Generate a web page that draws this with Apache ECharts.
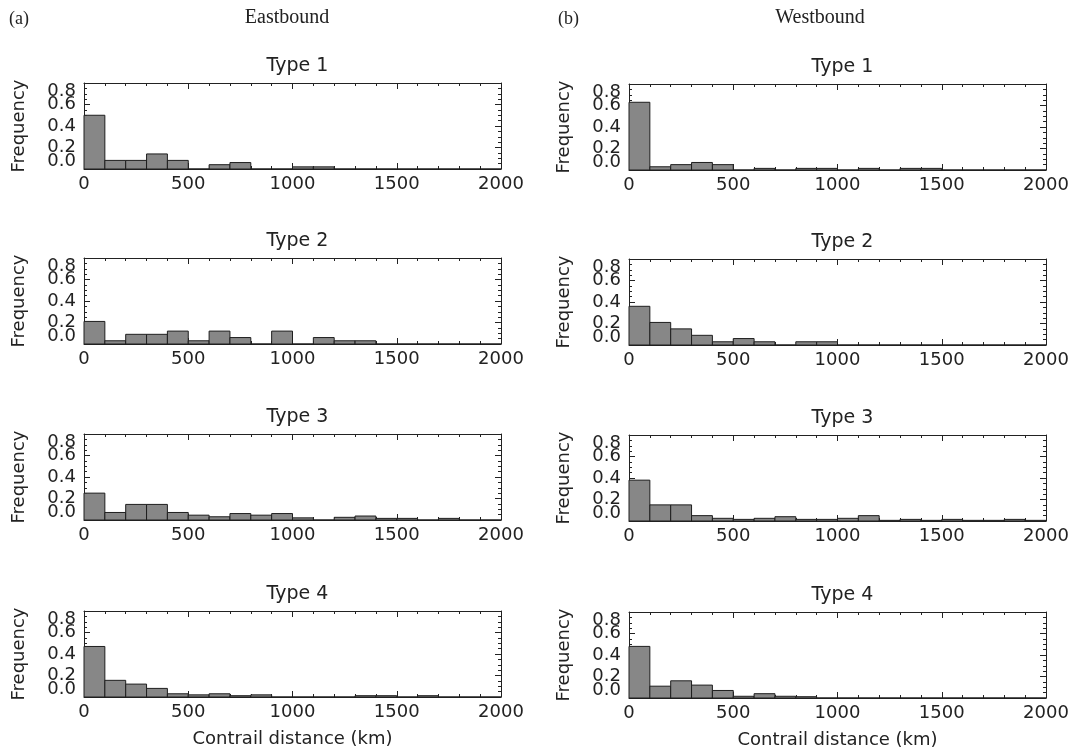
<!DOCTYPE html>
<html>
<head>
<meta charset="utf-8">
<script src="https://cdn.jsdelivr.net/npm/echarts@6/dist/echarts.min.js"></script>
<style>
html,body{margin:0;padding:0;background:#fff;}
#main{width:1075px;height:754px;}
</style>
</head>
<body>
<div id="main"></div>
<script>
// bin lower edges (km), each bin is 100 km wide
var binLo = [0,100,200,300,400,500,600,700,800,900,1000,1100,1200,1300,1400,1500,1600,1700,1800,1900];
var binWidth = 100;
var xTicks = ['0','500','1000','1500','2000'];
var yTicks = ['0.0','0.2','0.4','0.6','0.8'];
var typeNames = ['Type 1','Type 2','Type 3','Type 4'];

// eastbound frequencies
var eastT1 = [0.50,0.08,0.08,0.14,0.08,0,0.04,0.06,0,0,0.02,0.02,0,0,0,0,0,0,0,0];
var eastT2 = [0.21,0.03,0.09,0.09,0.12,0.03,0.12,0.06,0,0.12,0,0.06,0.03,0.03,0,0,0,0,0,0];
var eastT3 = [0.25,0.07,0.145,0.145,0.07,0.045,0.03,0.06,0.045,0.06,0.02,0,0.025,0.037,0.015,0.015,0,0.015,0,0];
var eastT4 = [0.47,0.155,0.12,0.08,0.03,0.02,0.03,0.012,0.02,0,0,0,0,0.012,0.012,0,0.012,0,0,0];
// westbound frequencies
var westT1 = [0.63,0.03,0.05,0.07,0.05,0,0.015,0,0.015,0.015,0,0.015,0,0.015,0.015,0,0,0,0,0];
var westT2 = [0.36,0.21,0.15,0.09,0.03,0.06,0.03,0,0.03,0.03,0,0,0,0,0,0,0,0,0,0];
var westT3 = [0.38,0.15,0.15,0.05,0.025,0.015,0.025,0.04,0.015,0.015,0.025,0.05,0.006,0.015,0.006,0.015,0.006,0.006,0.015,0.006];
var westT4 = [0.48,0.11,0.16,0.12,0.07,0.016,0.04,0.016,0.012,0,0,0,0,0,0,0,0,0,0,0];

var east = [eastT1, eastT2, eastT3, eastT4];
var west = [westT1, westT2, westT3, westT4];

var chart = echarts.init(document.getElementById('main'));

var FONT = 'DejaVu Sans';
var INK = '#222';
var colLeft = [84, 629];
var rowTop = [[83,258,434,611],[84,259,435,612]];
var gridW = 417, gridH = 86;

var grids = [], xAxes = [], yAxes = [], series = [], titles = [];

function renderBar(params, api) {
  var x0 = api.value(0), x1 = api.value(1), v = api.value(2);
  var p0 = api.coord([x0, 0]);
  var p1 = api.coord([x1, v]);
  return {
    type: 'rect',
    shape: {x: p0[0], y: p1[1], width: p1[0] - p0[0], height: p0[1] - p1[1]},
    style: {fill: '#878787', stroke: '#1e1e1e', lineWidth: 1}
  };
}

var tickStyle = {color: INK};

for (var c = 0; c < 2; c++) {
  for (var r = 0; r < 4; r++) {
    var g = grids.length;
    var vals = c === 0 ? east[r] : west[r];
    grids.push({left: colLeft[c], top: rowTop[c][r], width: gridW, height: gridH});
    titles.push({
      text: typeNames[r],
      left: colLeft[c] + gridW / 2, top: rowTop[c][r] - 31, textAlign: 'center',
      textStyle: {fontFamily: FONT, fontSize: 19, fontWeight: 'normal', color: INK}
    });
    var last = r === 3;
    // bottom x axis with labels
    xAxes.push({
      gridIndex: g, type: 'value', min: 0, max: 2000, interval: 500, position: 'bottom',
      name: last ? 'Contrail distance (km)' : '', nameLocation: 'middle', nameGap: 33,
      nameTextStyle: {fontFamily: FONT, fontSize: 18, color: INK},
      axisLine: {show: true, onZero: false, lineStyle: {color: INK, width: 1}},
      axisTick: {show: true, inside: true, length: 6, lineStyle: tickStyle},
      minorTick: {show: true, splitNumber: 5, length: 3, lineStyle: tickStyle},
      splitLine: {show: false},
      axisLabel: {fontFamily: FONT, fontSize: 18, color: INK, margin: 6,
        showMinLabel: true, showMaxLabel: true,
        formatter: function (v) { return xTicks[v / 500]; }}
    });
    // top x axis, ticks only
    xAxes.push({
      gridIndex: g, type: 'value', min: 0, max: 2000, interval: 500, position: 'top',
      axisLine: {show: true, onZero: false, lineStyle: {color: INK, width: 1}},
      axisTick: {show: true, inside: true, length: 6, lineStyle: tickStyle},
      minorTick: {show: true, splitNumber: 5, length: 3, lineStyle: tickStyle},
      splitLine: {show: false}, axisLabel: {show: false}
    });
    // left y axis: frame, ticks, inner labels 0.2-0.6
    yAxes.push({
      gridIndex: g, type: 'value', min: 0, max: 0.8, interval: 0.2, position: 'left',
      name: 'Frequency', nameLocation: 'middle', nameGap: 56, nameRotate: 90,
      nameTextStyle: {fontFamily: FONT, fontSize: 18, color: INK},
      axisLine: {show: true, onZero: false, lineStyle: {color: INK, width: 1}},
      axisTick: {show: true, inside: true, length: 6, lineStyle: tickStyle},
      minorTick: {show: true, splitNumber: 4, length: 3, lineStyle: tickStyle},
      splitLine: {show: false},
      axisLabel: {fontFamily: FONT, fontSize: 18, color: INK, margin: 8,
        showMinLabel: false, showMaxLabel: false,
        formatter: function (v) { return yTicks[Math.round(v / 0.2)]; }}
    });
    // right y axis, ticks only
    yAxes.push({
      gridIndex: g, type: 'value', min: 0, max: 0.8, interval: 0.2, position: 'right',
      axisLine: {show: true, onZero: false, lineStyle: {color: INK, width: 1}},
      axisTick: {show: true, inside: true, length: 6, lineStyle: tickStyle},
      minorTick: {show: true, splitNumber: 4, length: 3, lineStyle: tickStyle},
      splitLine: {show: false}, axisLabel: {show: false}
    });
    // left y axis, end labels only (pulled inside the frame like the original plot)
    yAxes.push({
      gridIndex: g, type: 'value', min: 0, max: 0.8, interval: 0.8, position: 'left', offset: 0,
      axisLine: {show: false}, axisTick: {show: false}, splitLine: {show: false},
      axisLabel: {fontFamily: FONT, fontSize: 18, color: INK, margin: 8,
        showMinLabel: true, showMaxLabel: true,
        formatter: function (v) { return v === 0 ? '{lo|' + yTicks[0] + '}' : '{hi|' + yTicks[4] + '}'; },
        rich: {
          lo: {fontFamily: FONT, fontSize: 18, color: INK, padding: [0, 0, 16, 0]},
          hi: {fontFamily: FONT, fontSize: 18, color: INK, padding: [16, 0, 0, 0]}
        }}
    });
    var data = [];
    for (var i = 0; i < binLo.length; i++) {
      data.push([binLo[i], binLo[i] + binWidth, vals[i]]);
    }
    series.push({
      type: 'custom', xAxisIndex: g * 2, yAxisIndex: g * 3,
      renderItem: renderBar, data: data, silent: true,
      encode: {x: [0, 1], y: 2}
    });
  }
}

titles.push({text: '(a)', left: 4, top: 5, textStyle: {fontFamily: 'Liberation Serif', fontSize: 18, fontWeight: 'normal', color: INK}});
titles.push({text: 'Eastbound', left: 282, top: 3, textAlign: 'center', textStyle: {fontFamily: 'Liberation Serif', fontSize: 20, fontWeight: 'normal', color: INK}});
titles.push({text: '(b)', left: 553, top: 5, textStyle: {fontFamily: 'Liberation Serif', fontSize: 18, fontWeight: 'normal', color: INK}});
titles.push({text: 'Westbound', left: 815, top: 3, textAlign: 'center', textStyle: {fontFamily: 'Liberation Serif', fontSize: 20, fontWeight: 'normal', color: INK}});

chart.setOption({
  backgroundColor: '#fff',
  animation: false,
  title: titles,
  grid: grids,
  xAxis: xAxes,
  yAxis: yAxes,
  series: series
});
</script>
</body>
</html>
